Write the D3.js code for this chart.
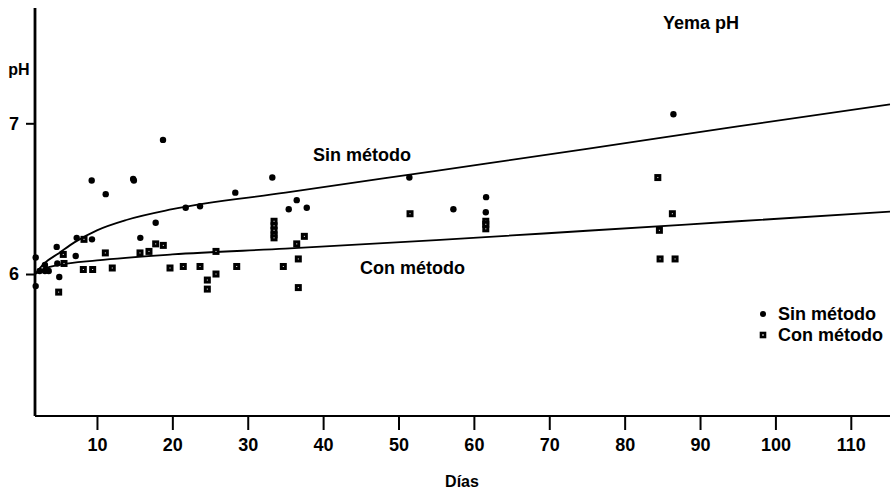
<!DOCTYPE html>
<html>
<head>
<meta charset="utf-8">
<script src="https://cdn.jsdelivr.net/npm/d3@7"></script>
<style>
  html, body { margin: 0; padding: 0; background: #fff; }
  svg text { font-family: "Liberation Sans", Arial, sans-serif; font-weight: bold; fill: #000; }
</style>
</head>
<body>
<div id="chart"></div>
<script>
// Data: days and pH
const sinDias = [1.87, 1.87, 2.4, 3.1, 3.1, 3.6, 4.66, 4.74, 5.0, 7.18, 7.31, 9.3, 9.34, 11.16,
  14.8, 14.9, 15.75, 17.79, 18.76, 21.77, 23.67, 28.35, 33.26, 35.44, 36.5, 37.83,
  51.44, 57.28, 61.58, 61.62, 86.47];
const sinPH = [6.11, 5.92, 6.02, 6.02, 6.06, 6.02, 6.18, 6.07, 5.98, 6.12, 6.24, 6.62, 6.23, 6.53,
  6.63, 6.62, 6.24, 6.34, 6.89, 6.44, 6.45, 6.54, 6.64, 6.43, 6.49, 6.44,
  6.64, 6.43, 6.41, 6.51, 7.06];

const conDias = [4.92, 5.53, 5.63, 8.19, 8.28, 9.43, 11.11, 12.03, 15.71, 16.9, 17.79, 18.8,
  19.69, 21.45, 23.67, 24.64, 24.64, 25.79, 25.79, 28.54, 33.49, 33.49, 33.49, 33.49, 33.49,
  34.72, 36.5, 36.71, 36.71, 37.51, 51.53, 61.58, 61.58, 61.58, 84.4, 84.61, 84.7, 86.33, 86.69];
const conPH = [5.88, 6.13, 6.07, 6.03, 6.23, 6.03, 6.14, 6.04, 6.14, 6.15, 6.2, 6.19,
  6.04, 6.05, 6.05, 5.96, 5.9, 6.15, 6.0, 6.05, 6.35, 6.32, 6.29, 6.26, 6.24,
  6.05, 6.2, 6.1, 5.91, 6.25, 6.4, 6.35, 6.33, 6.3, 6.64, 6.29, 6.1, 6.4, 6.1];

// fitted curves
const curvaSinDias = [1.8, 3, 5, 7, 10, 14, 20, 35, 55, 75, 95, 115.2];
const curvaSinPH = [6.0, 6.07, 6.14, 6.21, 6.29, 6.36, 6.43, 6.54, 6.685, 6.83, 6.98, 7.125];
const curvaConDias = [1.8, 3, 5, 10, 20, 35, 55, 75, 95, 115.2];
const curvaConPH = [6.0, 6.035, 6.06, 6.09, 6.13, 6.168, 6.225, 6.287, 6.35, 6.414];

const xTicks = [10, 20, 30, 40, 50, 60, 70, 80, 90, 100, 110];
const yTicks = [6, 7];

const width = 893, height = 491;
const margin = {top: 8, right: 3, bottom: 75, left: 35};

const svg = d3.select("#chart").append("svg")
  .attr("width", width)
  .attr("height", height);

const x = d3.scaleLinear().domain([1.78, 115.2]).range([margin.left, width - margin.right]);
const y = d3.scaleLinear().domain([5.058, 7.765]).range([height - margin.bottom, margin.top]);

// axes
const xAxis = svg.append("g")
  .attr("transform", `translate(0,${height - margin.bottom})`)
  .call(d3.axisBottom(x).tickValues(xTicks).tickSize(14).tickPadding(8));
xAxis.select(".domain").attr("stroke-width", 2.2).attr("d", `M${margin.left},0H${width - margin.right}`);
xAxis.selectAll(".tick line").attr("stroke-width", 2);
xAxis.selectAll(".tick text").attr("font-size", 18).attr("fill", "#000");

const yAxis = svg.append("g")
  .attr("transform", `translate(${margin.left},0)`)
  .call(d3.axisLeft(y).tickValues(yTicks).tickSize(9).tickPadding(7).tickFormat(d3.format("d")));
yAxis.select(".domain").attr("stroke-width", 2.8).attr("d", `M0,${margin.top}V${height - margin.bottom}`);
yAxis.selectAll(".tick line").attr("stroke-width", 2);
yAxis.selectAll(".tick text").attr("font-size", 18).attr("fill", "#000");
svg.selectAll(".tick text").style("font-family", "'Liberation Sans', Arial, sans-serif").style("font-weight", "bold");

// axis titles
svg.append("text").attr("x", 19).attr("y", 75).attr("text-anchor", "middle")
  .attr("font-size", 16).text("pH");
svg.append("text").attr("x", 462).attr("y", 487).attr("text-anchor", "middle")
  .attr("font-size", 16).text("Días");
svg.append("text").attr("x", 663).attr("y", 29)
  .attr("font-size", 18).text("Yema pH");

// fitted lines
const line = d3.line().x(d => x(d[0])).y(d => y(d[1])).curve(d3.curveMonotoneX);
svg.append("path").datum(d3.zip(curvaSinDias, curvaSinPH))
  .attr("d", line).attr("fill", "none").attr("stroke", "#000").attr("stroke-width", 1.8);
svg.append("path").datum(d3.zip(curvaConDias, curvaConPH))
  .attr("d", line).attr("fill", "none").attr("stroke", "#000").attr("stroke-width", 1.8);

svg.append("text").attr("x", 313).attr("y", 161).attr("font-size", 18).text("Sin método");
svg.append("text").attr("x", 360).attr("y", 274).attr("font-size", 18).text("Con método");

// points
svg.append("g").selectAll("circle").data(d3.zip(sinDias, sinPH)).join("circle")
  .attr("cx", d => x(d[0])).attr("cy", d => y(d[1])).attr("r", 3.2).attr("fill", "#000");

svg.append("g").selectAll("rect").data(d3.zip(conDias, conPH)).join("rect")
  .attr("x", d => x(d[0]) - 2).attr("y", d => y(d[1]) - 2)
  .attr("width", 4).attr("height", 4)
  .attr("fill", "#fff").attr("stroke", "#000").attr("stroke-width", 3);

// legend
const legend = svg.append("g").attr("transform", "translate(763,314)");
legend.append("circle").attr("cx", 0).attr("cy", 0).attr("r", 3).attr("fill", "#000");
legend.append("text").attr("x", 15).attr("y", 6).attr("font-size", 18).text("Sin método");
legend.append("rect").attr("x", -2).attr("y", 19).attr("width", 4).attr("height", 4)
  .attr("fill", "#fff").attr("stroke", "#000").attr("stroke-width", 2.6);
legend.append("text").attr("x", 15).attr("y", 27).attr("font-size", 18).text("Con método");
</script>
</body>
</html>
